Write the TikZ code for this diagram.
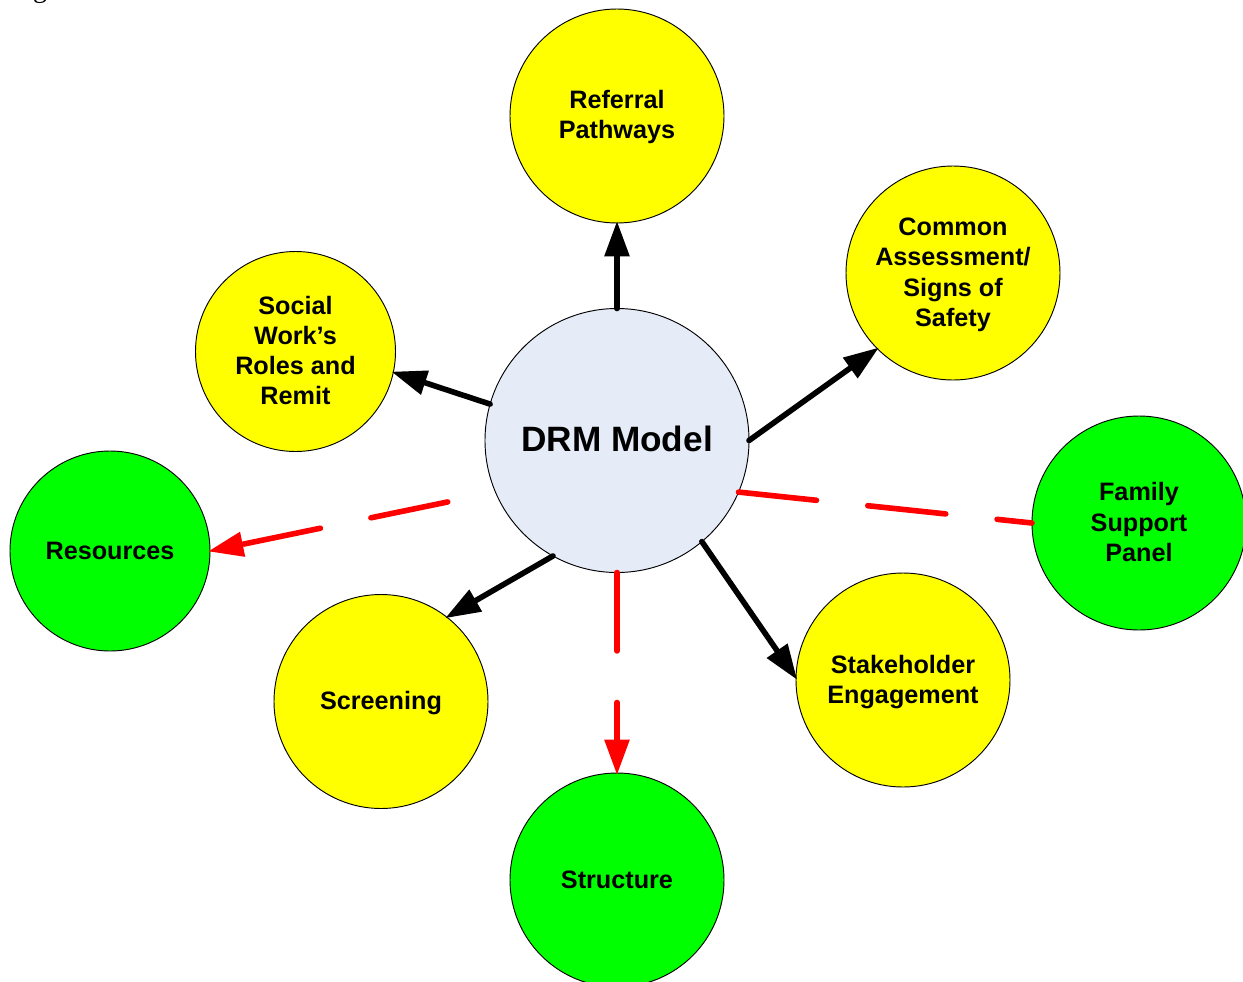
\documentclass[tikz,border=0pt]{standalone}
\usepackage{fontspec}
\setmainfont{Liberation Sans}
\newfontfamily\figfont{Liberation Serif}
\usetikzlibrary{arrows.meta}
\newcommand{\lbl}[2]{\raisebox{\dimexpr -#1pt*3/4\relax}[\height][\depth]{\begin{tabular}{@{}c@{}}#2\end{tabular}}}
\definecolor{hubblue}{HTML}{E6ECF7}
\definecolor{green}{HTML}{00FF00}
\definecolor{yellow}{HTML}{FFFF00}
\definecolor{red}{HTML}{FF0000}
\tikzset{
  bubble/.style={circle,draw=black,line width=0.7pt,inner sep=0pt,outer sep=0pt,text=black,
    font=\fontsize{18.9pt}{22.7pt}\selectfont\bfseries},
  yellowbub/.style={bubble,fill=yellow,minimum size=160.5pt},
  yellowsmall/.style={bubble,fill=yellow,minimum size=150pt},
  greenbub/.style={bubble,fill=green,minimum size=160.5pt},
  greensmall/.style={bubble,fill=green,minimum size=150pt},
  hub/.style={bubble,fill=hubblue,minimum size=198pt,font=\fontsize{26.4pt}{30pt}\selectfont\bfseries},
  blackarrow/.style={draw=black,line width=4.2pt,line cap=round,shorten >=-1.5pt,-{Triangle[length=26.5pt,width=18pt]}},
  reddash/.style={draw=red,line width=4.2pt,line cap=round,dash pattern=on 58.8pt off 38.7pt},
  redarrow/.style={reddash,shorten >=-1.5pt,-{Triangle[length=26.5pt,width=18pt]}},
  redarrowgap/.style={redarrow,dash phase=60.9pt},
}
\begin{document}
\begin{tikzpicture}[x=0.75pt,y=-0.75pt]
\useasboundingbox (0,0) rectangle (1243,982);
\clip (0,0) rectangle (1243,982);
\node[anchor=base,inner sep=0pt,font=\figfont\fontsize{21pt}{24pt}\selectfont] (figg) at (40,-3) {g};
\node[yellowbub] (referral) at (617,116) {\lbl{1.5}{Referral\\Pathways}};
\node[yellowbub] (common) at (953,273) {\lbl{2}{Common\\Assessment/\\Signs of\\Safety}};
\node[yellowsmall] (social) at (295.5,351.5) {\lbl{2}{Social\\Work’s\\Roles and\\Remit}};
\node[hub] (drm) at (617,440.5) {\lbl{2.6}{DRM Model}};
\node[greenbub] (family) at (1139,523) {\lbl{2.2}{Family\\Support\\Panel}};
\node[greensmall] (resources) at (110,551) {\lbl{2}{Resources}};
\node[yellowbub] (screening) at (381,701.5) {\lbl{1.5}{Screening}};
\node[yellowbub] (stake) at (903,680) {\lbl{2.5}{Stakeholder\\Engagement}};
\node[greenbub] (structure) at (617,880) {\lbl{2}{Structure}};
\draw[blackarrow] (drm.90) -- (referral.-90);
\draw[blackarrow] (drm.0) -- (common.225);
\draw[blackarrow] (drm.164.4) -- (social.-12.7);
\draw[blackarrow] (drm.-119) -- (screening.52.6);
\draw[blackarrow] (drm.-50) -- (stake.179);
\draw[redarrowgap] (drm.203.6) -- (resources.0);
\draw[redarrow] (drm.-90) -- (structure.90);
\draw[reddash] (drm.-23.6) -- (family.180);
\end{tikzpicture}
\end{document}
